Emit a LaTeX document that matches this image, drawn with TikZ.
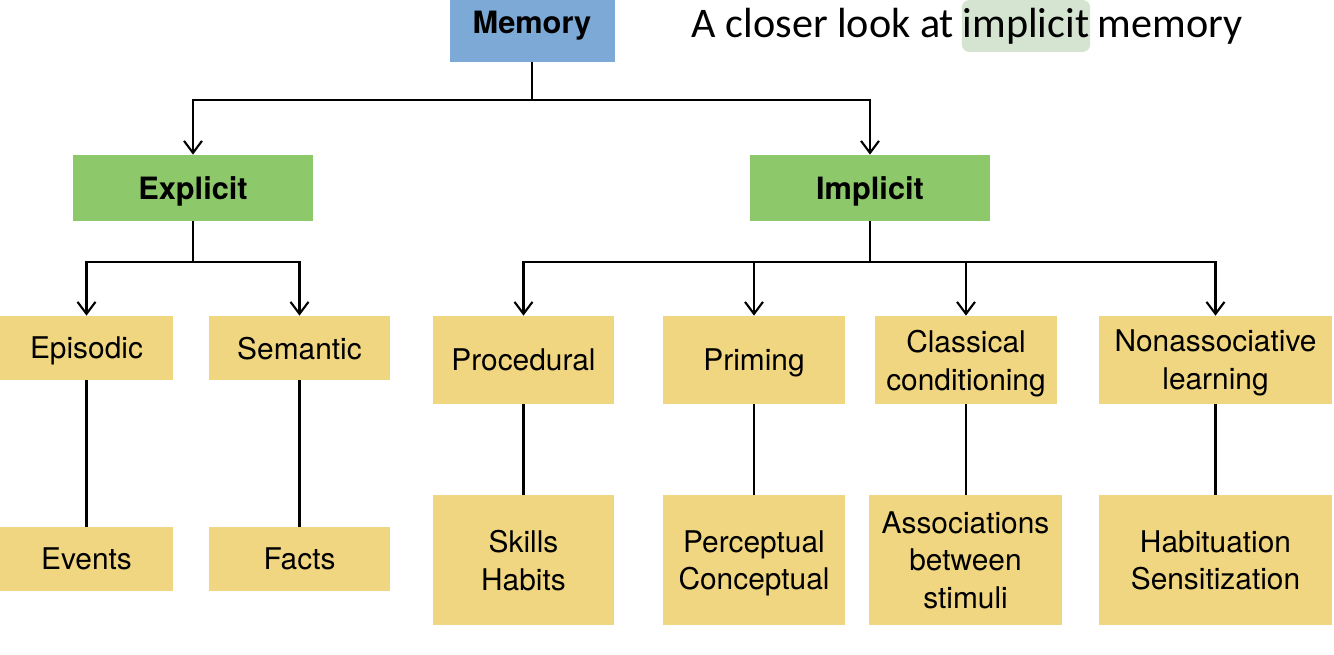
\documentclass[tikz,border=0pt]{standalone}
\usepackage{fontspec}
\setmainfont{TeX Gyre Heros}
\newfontfamily\titlefont{Carlito}
\usetikzlibrary{arrows.meta,positioning}
\definecolor{memblue}{HTML}{7DA9D6}
\definecolor{kindgreen}{HTML}{8DC86A}
\definecolor{typeyellow}{HTML}{F0D680}
\definecolor{hlgreen}{HTML}{D5E4D0}

\begin{document}
\begin{tikzpicture}[x=0.2mm,y=-0.2mm]
  \tikzset{every node/.style={align=center,inner sep=0pt,font=\fontsize{17}{21.5}\selectfont},
    box/.style={fill=typeyellow,text depth=0pt},
    head/.style={fill=kindgreen,text depth=0pt,minimum width=48mm,minimum height=13.2mm,font=\fontsize{17.5}{21.5}\selectfont\bfseries},
    title/.style={font=\titlefont\fontsize{24}{28}\selectfont},
    arr/.style={line width=1.2pt,-{Straight Barb[length=2.4mm,width=3.6mm]}},
    link/.style={line width=1.2pt}}
  \useasboundingbox (0,0) rectangle (1334,655);
  \node[fill=memblue,text depth=0pt,minimum width=33mm,minimum height=16mm,font=\fontsize{17.5}{21.5}\selectfont\bfseries] (memory) at (532,22) {Memory};
  \node[title,fill=hlgreen,rounded corners=1.5mm,inner xsep=0.5pt,minimum height=10.4mm] (hlword) at (1026,26) {implicit};
  \node[title,base left=4pt of hlword] (lefttitle) {A closer look at};
  \node[title,base right=4pt of hlword] (righttitle) {memory};
  \node[head] (explicit) at (193,188) {Explicit};
  \node[head] (implicit) at (870,188) {Implicit};
  \node[box,minimum width=34.6mm,minimum height=12.8mm] (episodic) at (86.5,348) {Episodic};
  \node[box,minimum width=36.2mm,minimum height=12.8mm] (semantic) at (299.5,348) {Semantic};
  \node[box,minimum width=34.6mm,minimum height=12.8mm] (events) at (86.5,559) {Events};
  \node[box,minimum width=36.2mm,minimum height=12.8mm] (facts) at (299.5,559) {Facts};
  \node[box,minimum width=36.2mm,minimum height=17.6mm] (procedural) at (523.5,360) {Procedural};
  \node[box,minimum width=36.4mm,minimum height=17.6mm] (priming) at (754,360) {Priming};
  \node[box,minimum width=36.4mm,minimum height=17.6mm] (classical) at (966,360) {Classical\\conditioning};
  \node[box,minimum width=46.6mm,minimum height=17.6mm] (nonassoc) at (1215.5,360) {Nonassociative\\learning};
  \node[box,minimum width=36.2mm,minimum height=26mm] (skills) at (523.5,560) {Skills\\Habits};
  \node[box,minimum width=36.4mm,minimum height=26mm] (perceptual) at (754,560) {Perceptual\\Conceptual};
  \node[box,minimum width=38.6mm,minimum height=26mm] (assoc) at (965.5,560) {Associations\\between\\stimuli};
  \node[box,minimum width=46.6mm,minimum height=26mm] (habit) at (1215.5,560) {Habituation\\Sensitization};
  \coordinate (topbus) at (0,100);
  \coordinate (lowbus) at (0,262);
  \draw[arr] (memory.south) |- (topbus -| explicit) -- (explicit.north);
  \draw[arr] (memory.south) |- (topbus -| implicit) -- (implicit.north);
  \draw[arr] (explicit.south) |- (lowbus -| episodic) -- (episodic.north);
  \draw[arr] (explicit.south) |- (lowbus -| semantic) -- (semantic.north);
  \foreach \kid in {procedural,priming,classical,nonassoc}
    \draw[arr] (implicit.south) |- (lowbus -| \kid) -- (\kid.north);
  \foreach \up/\down in {episodic/events,semantic/facts,procedural/skills,priming/perceptual,classical/assoc,nonassoc/habit}
    \draw[link] (\up) -- (\up |- \down.north);
\end{tikzpicture}
\end{document}
